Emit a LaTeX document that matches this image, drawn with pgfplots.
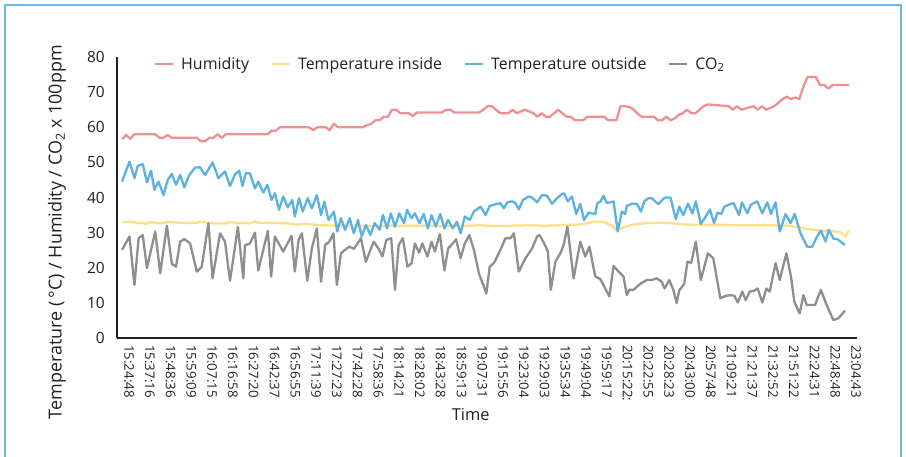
\documentclass[border=0pt]{standalone}
\usepackage{fontspec}
\setmainfont{Open Sans}
\usepackage{pgfplots}
\pgfplotsset{compat=1.18}
\definecolor{hum}{HTML}{EF8F92}
\definecolor{tin}{HTML}{FDDF8A}
\definecolor{tout}{HTML}{5CB1DF}
\definecolor{cotwo}{HTML}{8E8E90}
\definecolor{framec}{HTML}{6CB8E6}
\definecolor{axisc}{HTML}{231F20}
\begin{document}
\begin{tikzpicture}[x=1bp,y=1bp]
\useasboundingbox (-117,-119) rectangle (789,338);
\draw[framec, line width=1.5bp] (-112,-125) -- (-112,333) -- (784,333) -- (784,-125);
\begin{axis}[
  at={(0,0)}, anchor=south west,
  width=740bp, height=281bp, scale only axis,
  xmin=-1.2, xmax=176.9, ymin=0, ymax=80,
  axis x line=bottom, axis y line=left,
  axis line style={-, line width=2bp, color=axisc},
  major tick length=0pt,
  ytick={0,10,...,80},
  /pgf/number format/assume math mode=true,
  yticklabel style={font=\fontsize{15.5}{17}\selectfont, inner sep=0pt, xshift=-12bp, text=axisc},
  xtick={1.7,6.7,11.7,16.7,21.7,26.7,31.7,36.7,41.7,46.7,51.7,56.7,61.7,66.7,71.7,76.7,81.7,86.7,91.7,96.7,101.7,106.7,111.7,116.7,121.7,126.7,131.7,136.7,141.7,146.7,151.7,156.7,161.7,166.7,171.7,176.7},
  xticklabels={15:24:48,15:37:16,15:48:36,15:59:09,16:07:15,16:16:58,16:27:20,16:42:37,16:56:55,17:11:39,17:27:23,17:42:28,17:58:36,18:14:21,18:28:02,18:43:28,18:59:13,19:07:31,19:15:56,19:23:04,19:29:03,19:35:34,19:49:04,19:59:17,20:15:22:,20:22:55,20:28:23,20:43:00,20:57:48,21:09:21,21:21:37,21:32:52,21:51:22,22:24:31,22:48:48,23:04:43},
  xticklabel style={rotate=-90, anchor=west, inner sep=0pt, inner xsep=7bp, font=\fontsize{13.3}{15}\selectfont, text=axisc},
  xlabel={Time},
  x label style={at={(axis description cs:0.478,0)}, anchor=center, yshift=-77bp, font=\fontsize{16.5}{18}\selectfont, text=axisc},
  ylabel={Temperature (\,°C) / Humidity / CO\textsubscript{2} x 100ppm},
  y label style={at={(axis description cs:-0.081,0.377)}, anchor=center, font=\fontsize{18}{20}\selectfont, text=axisc},
  legend columns=4,
  legend style={at={(axis description cs:0.05,0.975)}, anchor=west, draw=none, fill=none, inner sep=0pt,
    font=\fontsize{16}{18}\selectfont, text=axisc,
    nodes={inner sep=0pt},
    /tikz/every odd column/.append style={column sep=7bp},
    /tikz/every even column/.append style={column sep=22bp}},
  legend image code/.code={\draw[#1, line width=2bp] (0bp,0bp) -- (18bp,0bp);},
  every axis plot/.append style={line width=2.3bp, line join=round},
]
\addplot[hum] coordinates {(0,56.6) (1,57.8) (2,56.7) (3,58) (8,58) (9,57) (10,57) (11,57.8) (12,57) (18,57) (19,56) (20,56) (21,57) (22,57) (23,58) (24,57) (25,58) (35,58) (36,59) (37,59) (38,60) (45,60) (46,59.2) (47,60) (49,60) (50,59.2) (51,61) (52,60) (58,60) (59,60.6) (60,61) (61,62) (62,62) (63,63) (64,63) (65,65) (66,65) (67,64) (69,64) (70,63.2) (71,64.2) (77,64.2) (78,65) (79,65) (80,64.2) (86,64.2) (87,65) (88,66) (89,66) (90,65) (91,64) (93,64) (94,65) (95,64) (96,64.5) (97,65) (98,64.5) (99,64) (100,63) (101,64) (102,63) (103,63) (104,64) (105,65) (106,64) (107,63) (108,63) (109,62) (111,62) (112,63) (116,63) (117,62) (119,62) (120,66) (121,66) (122,65.8) (123,65.2) (124,64) (125,63) (128,63) (129,62) (130,62) (131,63) (132,62) (133,62.5) (134,63.5) (135,64) (136,65) (137,64) (138,64) (139,65) (140,66) (141,66.5) (146,66) (147,65) (148,66) (149,65) (152,66) (153,65) (154,66) (155,65) (157,66) (158,67) (159,68) (160,68.7) (161,68) (162,68.5) (163,68) (164,71.6) (165,74.3) (167,74.3) (168,72) (169,72) (170,71) (171,72) (175,72)};
\addlegendentry{Humidity}
\addplot[tin] coordinates {(0,33) (3,33) (4,32.6) (5,32.7) (6,32.5) (7,33) (8,32.8) (9,32.6) (10,32.8) (11,33.1) (12,33) (14,32.8) (16,32.7) (18,32.8) (19,33.2) (20,33) (22,32.6) (25,32.6) (26,33) (28,32.7) (31,32.7) (32,33.2) (33,32.7) (36,32.8) (40,32.6) (42,32.3) (44,32.5) (46,32.3) (48,32.1) (52,32) (56,32) (60,31.9) (64,31.9) (70,32) (76,31.9) (82,31.9) (86,32.1) (90,31.8) (94,32) (98,32.1) (102,31.9) (106,32.2) (110,32.3) (112,32.7) (114,33.2) (116,33) (118,32) (119,30.7) (121,31.6) (123,32.3) (126,32.7) (130,32.8) (133,32.6) (136,32.3) (140,32.2) (145,32.2) (150,32.1) (155,32.1) (160,32) (163,31.5) (165,31) (168,30.6) (171,30.4) (173,30.1) (174,28.8) (175,30.6)};
\addlegendentry{Temperature inside}
\addplot[tout] coordinates {(0,44.5) (1.8,50.2) (3,45.5) (3.8,49) (5,49.5) (6,44.3) (7,47.6) (7.8,42.2) (8.8,44.5) (10,40.7) (11,45) (12,46.7) (13,43.6) (14,46.4) (15,42.9) (16.2,46.4) (17.6,48.5) (18.8,48.6) (20,46.4) (21.8,50) (23.2,45.5) (24.8,47.4) (26,43.3) (27.2,46.6) (28.2,47.6) (29,43.3) (29.8,46.9) (30.8,46.9) (32,42.6) (32.8,44.5) (34,41.4) (35,43.6) (36,39.3) (36.8,41.2) (37.8,36.5) (38.8,40.3) (39.9,37.2) (41,39.3) (41.6,34.6) (42.6,39.8) (43.5,36) (44.7,39.8) (45.7,36.9) (46.9,40.7) (47.9,35) (48.7,38.8) (49.7,33.6) (51,36) (51.8,30.3) (52.7,34.1) (53.7,30.8) (54.8,34.1) (55.8,29.8) (56.8,33.6) (57.7,28.9) (58.7,32.2) (59.8,29.3) (60.8,32.7) (62,30.8) (62.8,35) (63.8,31.2) (64.7,35.5) (65.7,31.7) (66.7,35.5) (67.9,32.7) (68.6,36.5) (69.7,34.1) (70.5,35.5) (71.6,32.7) (72.6,35.3) (73.6,31.2) (74.5,35) (75.5,31.7) (76.6,35.3) (77.6,31.2) (78.5,33.6) (79.6,31.2) (80.6,33.1) (81.5,29.8) (82.5,34.6) (83.7,33.6) (84.7,36) (86.3,37.4) (87.5,35) (88.5,37.6) (90.3,38.2) (91.1,38.4) (91.9,36.9) (92.7,38.6) (93.9,38.9) (94.7,38.4) (95.5,36.6) (96.5,39.3) (97.9,40.3) (98.7,40) (99.9,38.6) (101.1,40.7) (102.3,40.5) (103.5,38.2) (104.7,39.8) (105.9,41) (106.4,41.2) (107.3,38.9) (108.3,40.3) (109.3,35.3) (110.3,38.2) (111.2,33.6) (112.3,35.7) (113.1,35.5) (113.9,35.3) (114.4,38.4) (115.2,38.9) (115.9,40.5) (116.7,38.4) (118.3,38.9) (119.3,30.3) (120.3,36) (121.1,35.3) (121.5,37.6) (122.7,38.2) (123.9,38.2) (124.9,36) (125.7,38.9) (126.7,39.8) (127.5,39.8) (129.1,38.1) (130.3,39.6) (130.8,40) (132,40) (133.3,33.8) (134.1,37.4) (135.1,35) (136.2,38.2) (137.3,35.5) (138.1,38.9) (139.3,32.5) (140.5,34.6) (141.5,36.6) (142.5,32.7) (143.3,35.7) (144.2,35.3) (145,37.4) (146.5,38.2) (147.2,38.4) (148.5,35) (149.2,38.6) (150.5,35.5) (151.3,37.9) (152.9,38.9) (154.1,35.5) (155.3,38.6) (156.2,35.3) (157.3,38.6) (158.3,30.3) (159.7,35.3) (160.9,32.7) (161.9,35.3) (163.3,29.8) (164.9,26) (166.1,26) (167.3,28.9) (168.2,30.6) (169.3,27.5) (170.1,30.8) (171.3,28.2) (172.1,28.2) (174,26.5)};
\addlegendentry{Temperature outside}
\addplot[cotwo] coordinates {(0,25.1) (1.8,28.9) (3,15.1) (4,28.4) (5,29.3) (6,19.9) (8,30.3) (9.2,18.4) (10.8,32) (12,21.1) (13,20.3) (14,27.4) (15,28.2) (16.4,26.9) (18,18.9) (19.2,20.3) (20.8,32.7) (21.8,17) (23.6,29.8) (24.8,27.4) (26,16.3) (27.9,31.6) (29.2,17) (29.6,26.4) (30.8,26.9) (32,30) (32.8,19.2) (35.1,30.5) (35.9,17.5) (36.8,28.9) (38.8,24.6) (40.8,29.1) (41.6,18.9) (42.5,27.9) (43.3,29.8) (44.6,16.3) (45.7,25.5) (46.9,31.2) (47.9,16) (48.9,26.5) (49.9,27.4) (50.9,29.8) (51.7,15.1) (52.7,24.1) (53.7,25.1) (54.7,26) (55.8,25.4) (56.7,26.9) (57.5,28.4) (58.7,21.7) (59.8,25.1) (60.6,27.4) (61.7,25.5) (62.7,23.2) (63.6,27.9) (64.8,28.4) (65.7,13.7) (66.6,26.5) (67.6,28.4) (68.7,20.3) (69.7,21.3) (70.5,26.9) (71.5,24.3) (72.3,26.9) (73.5,23.2) (74.5,27.4) (75.3,24.6) (76.5,29.6) (77.6,19.2) (78.5,25.5) (79.6,26.9) (80.4,28.1) (81.5,22.7) (82.5,26.9) (83.6,29.3) (84.7,25.1) (85.9,18.4) (87.7,12.7) (88.5,20.3) (89.5,21.3) (90.7,24.1) (92.3,28.4) (93.5,28.4) (94.3,29.8) (95.5,18.9) (97.1,22.7) (98.7,25.5) (99.9,28.9) (100.5,29.3) (101.5,27.2) (102.5,24.6) (103.2,13.7) (104.3,21.7) (105.5,24.1) (106.3,26.5) (107.2,31.7) (108.7,17) (110.3,27.4) (111.5,23.2) (112.5,26) (113.9,17.5) (115.1,16.8) (116.3,14.1) (117.3,11.8) (118.3,20.5) (119.5,18.9) (120.7,17.5) (121.5,12.2) (122.1,13.7) (123.1,13.7) (124.7,15.4) (126.3,16.5) (127.5,16.5) (128.7,17) (129.9,16) (130.6,14.1) (131.7,16.5) (132.7,13.7) (133.5,9.9) (134.1,13.5) (135.3,15.4) (136.1,21.7) (137,21.4) (138.1,27.4) (139.3,16.5) (141,24.1) (142.3,22.7) (144,11.3) (145.3,12) (146.5,12.2) (147.4,12) (148.2,10.1) (149.3,13.2) (150.1,10.8) (151.1,13.2) (152.2,13.5) (153,14.1) (154.1,10.1) (155.1,14.1) (155.9,13.2) (157.3,21.3) (158.3,16.5) (159.9,24.1) (161,17.5) (161.8,10.4) (163.1,7) (164,12.2) (164.8,9.4) (166.8,9.4) (168.2,13.7) (169.6,9.4) (171.2,5.1) (172.4,5.6) (174,7.8)};
\addlegendentry{CO\textsubscript{2}}
\end{axis}
\end{tikzpicture}
\end{document}
